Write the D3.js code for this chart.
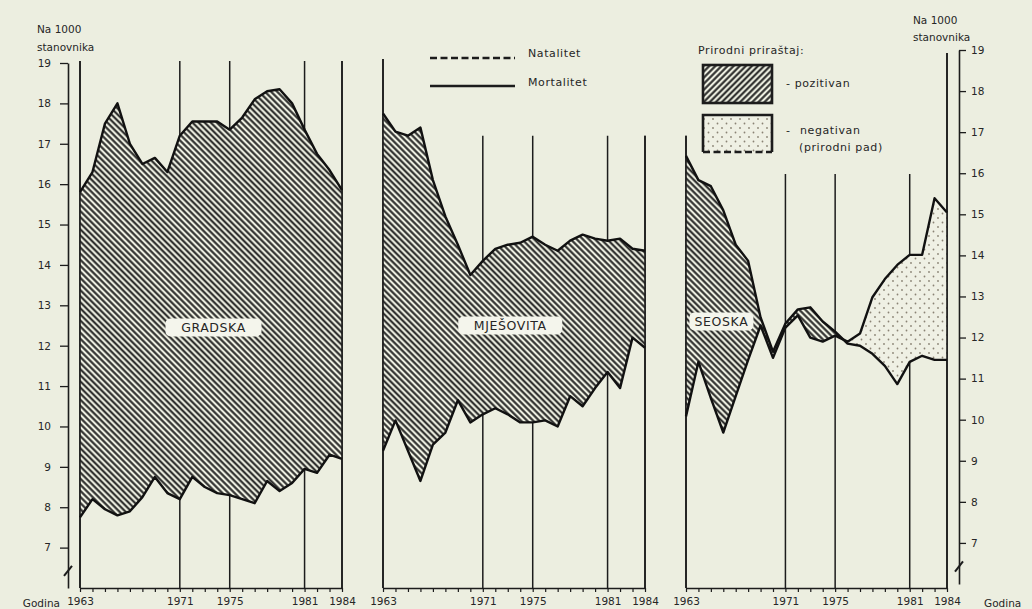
<!DOCTYPE html>
<html>
<head>
<meta charset="utf-8">
<script src="https://cdn.jsdelivr.net/npm/d3@7"></script>
<style>
  body { margin: 0; background: #eceee0; }
  svg { display: block; font-family: "DejaVu Sans", sans-serif; }
  text { fill: #262626; }
</style>
</head>
<body>
<svg width="1032" height="609"></svg>
<script>

// years on the x axis of every panel
const years = [1963, 1964, 1965, 1966, 1967, 1968, 1969, 1970, 1971, 1972, 1973,
               1974, 1975, 1976, 1977, 1978, 1979, 1980, 1981, 1982, 1983, 1984];
const labelYears = [1963, 1971, 1975, 1981, 1984];
const valueTicks = [7, 8, 9, 10, 11, 12, 13, 14, 15, 16, 17, 18, 19];

// natalitet / mortalitet per 1000 stanovnika
const gradskaNat  = [15.8, 16.3, 17.5, 18.0, 17.0, 16.5, 16.65, 16.3, 17.2, 17.55, 17.55,
                     17.55, 17.35, 17.65, 18.1, 18.3, 18.35, 18.0, 17.35, 16.75, 16.35, 15.85];
const gradskaMort = [7.75, 8.2, 7.95, 7.8, 7.9, 8.25, 8.75, 8.35, 8.2, 8.75, 8.5,
                     8.35, 8.3, 8.2, 8.1, 8.65, 8.4, 8.6, 8.95, 8.85, 9.3, 9.2];

const mjesovitaNat  = [17.75, 17.3, 17.2, 17.4, 16.1, 15.2, 14.5, 13.75, 14.1, 14.4, 14.5,
                       14.55, 14.7, 14.5, 14.35, 14.6, 14.75, 14.65, 14.6, 14.65, 14.4, 14.35];
const mjesovitaMort = [9.4, 10.15, 9.4, 8.65, 9.55, 9.85, 10.65, 10.1, 10.3, 10.45, 10.3,
                       10.1, 10.1, 10.15, 10.0, 10.75, 10.5, 10.95, 11.35, 10.95, 12.2, 11.95];

const seoskaNat  = [16.7, 16.1, 15.95, 15.35, 14.5, 14.1, 12.7, 11.85, 12.55, 12.9, 12.95,
                    12.6, 12.35, 12.05, 12.0, 11.8, 11.5, 11.05, 11.6, 11.75, 11.65, 11.65];
const seoskaMort = [10.25, 11.6, 10.7, 9.85, 10.75, 11.65, 12.5, 11.7, 12.45, 12.75, 12.2,
                    12.1, 12.25, 12.1, 12.3, 13.2, 13.65, 14.0, 14.25, 14.25, 15.65, 15.3];

// how high the year lines reach in each panel (same order as labelYears)
const gradskaLineTop   = [19.05, 19.05, 19.05, 19.05, 19.05];
const mjesovitaLineTop = [19.1, 17.2, 17.2, 17.2, 17.2];
const seoskaLineTop    = [17.2, 16.25, 16.25, 16.25, 19.25];


const svg = d3.select('svg');
const defs = svg.append('defs');
const ink = '#1c1c1c';
const paper = '#eceee0';

// shared value scale, the right hand axis sits a little higher in the print
const y = d3.scaleLinear().domain([6, 19]).range([588, 63]);
const yR = d3.scaleLinear().domain([6, 19]).range([584, 50]);

const panels = [
  {id: 'grad', name: 'GRADSKA', nat: gradskaNat, mort: gradskaMort, top: gradskaLineTop,
   left: 80, right: 342, labelAt: [1973.7, 12.45], labelW: 96},
  {id: 'mjes', name: 'MJEŠOVITA', nat: mjesovitaNat, mort: mjesovitaMort, top: mjesovitaLineTop,
   left: 383, right: 645, labelAt: [1973.2, 12.5], labelW: 104},
  {id: 'seos', name: 'SEOSKA', nat: seoskaNat, mort: seoskaMort, top: seoskaLineTop,
   left: 686, right: 947, labelAt: [1965.85, 12.6], labelW: 64}
];


// fill patterns
function hatchPattern(id, angle) {
  const p = defs.append('pattern')
    .attr('id', id)
    .attr('width', 4.3)
    .attr('height', 4.3)
    .attr('patternUnits', 'userSpaceOnUse')
    .attr('patternTransform', `rotate(${angle})`);
  p.append('rect').attr('width', 4.3).attr('height', 4.3).attr('fill', paper);
  p.append('line')
    .attr('x1', 2.15).attr('x2', 2.15)
    .attr('y1', 0).attr('y2', 4.3)
    .attr('stroke', '#222')
    .attr('stroke-width', 2);
}
hatchPattern('hatch', -45);
hatchPattern('hatchKey', 45);

const dots = defs.append('pattern')
  .attr('id', 'dots')
  .attr('width', 9)
  .attr('height', 9)
  .attr('patternUnits', 'userSpaceOnUse');
dots.append('rect').attr('width', 9).attr('height', 9).attr('fill', '#eff0e4');
dots.append('circle').attr('cx', 2).attr('cy', 2).attr('r', 0.9).attr('fill', '#8a8374');
dots.append('circle').attr('cx', 6.5).attr('cy', 6.5).attr('r', 0.9).attr('fill', '#8a8374');


for (let p of panels) {
  drawPanel(p);
}

function drawPanel(p) {
  const x = d3.scaleLinear().domain([1963, 1984]).range([p.left, p.right]);
  const rows = years.map((yr, i) => ({year: yr, nat: p.nat[i], mort: p.mort[i]}));
  const g = svg.append('g').attr('id', p.id);

  // year lines behind the fill
  g.selectAll('line.grid')
    .data(labelYears)
    .enter()
    .append('line')
    .attr('class', 'grid')
    .attr('x1', d => x(d))
    .attr('x2', d => x(d))
    .attr('y1', (d, i) => y(p.top[i]))
    .attr('y2', y(6))
    .attr('stroke', ink)
    .attr('stroke-width', 1.5);

  // clip regions under each curve
  defs.append('clipPath')
    .attr('id', p.id + '-underNat')
    .append('path')
    .attr('d', d3.area().x(d => x(d.year)).y0(y(6)).y1(d => y(d.nat))(rows));
  defs.append('clipPath')
    .attr('id', p.id + '-underMort')
    .append('path')
    .attr('d', d3.area().x(d => x(d.year)).y0(y(6)).y1(d => y(d.mort))(rows));

  // positive growth: between mortality and natality, hatched
  g.append('path')
    .attr('d', d3.area().x(d => x(d.year)).y0(y(20)).y1(d => y(d.mort))(rows))
    .attr('fill', 'url(#hatch)')
    .attr('clip-path', `url(#${p.id}-underNat)`);

  // negative growth, dotted
  g.append('path')
    .attr('d', d3.area().x(d => x(d.year)).y0(y(20)).y1(d => y(d.nat))(rows))
    .attr('fill', 'url(#dots)')
    .attr('clip-path', `url(#${p.id}-underMort)`);

  // panel edges over the fill
  const edges = [0, labelYears.length - 1];
  g.selectAll('line.edge')
    .data(edges)
    .enter()
    .append('line')
    .attr('x1', i => x(labelYears[i]))
    .attr('x2', i => x(labelYears[i]))
    .attr('y1', i => y(p.top[i]))
    .attr('y2', y(6))
    .attr('stroke', ink)
    .attr('stroke-width', 1.6);

  // the two curves
  for (let key of ['nat', 'mort']) {
    g.append('path')
      .attr('d', d3.line().x(d => x(d.year)).y(d => y(d[key]))(rows))
      .attr('fill', 'none')
      .attr('stroke', '#111')
      .attr('stroke-width', 2.4)
      .attr('stroke-linejoin', 'round');
  }

  // name of the settlement type
  const cx = x(p.labelAt[0]);
  const cy = y(p.labelAt[1]);
  g.append('rect')
    .attr('x', cx - p.labelW / 2)
    .attr('y', cy - 9)
    .attr('width', p.labelW)
    .attr('height', 18)
    .attr('rx', 5)
    .attr('fill', '#f4f5ec');
  g.append('text')
    .text(p.name)
    .attr('x', cx)
    .attr('y', cy + 4.5)
    .attr('text-anchor', 'middle')
    .attr('font-size', 12.5)
    .attr('letter-spacing', 0.6);

  // baseline with a tick for every year
  const xAxis = d3.axisBottom(x)
    .tickValues(years)
    .tickSize(4)
    .tickSizeOuter(0)
    .tickPadding(6)
    .tickFormat(d => labelYears.includes(d) ? d : '');
  const ax = g.append('g')
    .attr('transform', `translate(0, ${y(6)})`)
    .call(xAxis)
    .attr('font-family', null)
    .attr('font-size', 10.5);
  ax.select('.domain').attr('stroke', ink).attr('stroke-width', 1.6);
  ax.selectAll('.tick line').attr('stroke', ink).attr('stroke-width', 1.2);
  ax.selectAll('.tick text').attr('fill', '#262626');
}


// left value axis
const leftAxis = svg.append('g')
  .attr('transform', 'translate(68, 0)')
  .call(d3.axisLeft(y).tickValues(valueTicks).tickSize(8).tickPadding(9).tickSizeOuter(0))
  .attr('font-family', null)
  .attr('font-size', 10.5);

// right value axis
const rightAxis = svg.append('g')
  .attr('transform', 'translate(959, 0)')
  .call(d3.axisRight(yR).tickValues(valueTicks).tickSize(7).tickPadding(5).tickSizeOuter(0))
  .attr('font-family', null)
  .attr('font-size', 10.5);

for (let a of [leftAxis, rightAxis]) {
  a.select('.domain').attr('stroke', ink).attr('stroke-width', 1.6);
  a.selectAll('.tick line').attr('stroke', ink).attr('stroke-width', 1.3);
  a.selectAll('.tick text').attr('fill', '#262626');
}

// axis break marks
svg.append('line')
  .attr('x1', 64).attr('y1', y(6.3))
  .attr('x2', 72).attr('y2', y(6.55))
  .attr('stroke', ink).attr('stroke-width', 2);
svg.append('line')
  .attr('x1', 955).attr('y1', yR(6.3))
  .attr('x2', 963).attr('y2', yR(6.55))
  .attr('stroke', ink).attr('stroke-width', 2);


// unit and year captions
const captions = [
  ['Na  1000', 37, 33, 'start'], ['stanovnika', 37, 51, 'start'],
  ['Na  1000', 913, 24, 'start'], ['stanovnika', 913, 41, 'start'],
  ['Godina', 60, 607, 'end'], ['Godina', 984, 607, 'start']
];
svg.selectAll('text.caption')
  .data(captions)
  .enter()
  .append('text')
  .attr('class', 'caption')
  .text(d => d[0])
  .attr('x', d => d[1])
  .attr('y', d => d[2])
  .attr('text-anchor', d => d[3])
  .attr('font-size', 10.5);


// legend: line styles
const key = svg.append('g').attr('font-size', 11).attr('letter-spacing', 0.6);
key.append('line')
  .attr('x1', 430).attr('x2', 515).attr('y1', 58).attr('y2', 58)
  .attr('stroke', ink).attr('stroke-width', 2.3)
  .attr('stroke-dasharray', '7,3.5');
key.append('text').text('Natalitet').attr('x', 528).attr('y', 57);
key.append('line')
  .attr('x1', 430).attr('x2', 515).attr('y1', 86).attr('y2', 86)
  .attr('stroke', ink).attr('stroke-width', 2.5);
key.append('text').text('Mortalitet').attr('x', 528).attr('y', 86);

// legend: fills
key.append('text').text('Prirodni priraštaj:').attr('x', 698).attr('y', 54);
key.append('rect')
  .attr('x', 703).attr('y', 65).attr('width', 69).attr('height', 38)
  .attr('fill', 'url(#hatchKey)')
  .attr('stroke', ink).attr('stroke-width', 2.6);
key.append('text').text('- pozitivan').attr('x', 786).attr('y', 87);

key.append('rect')
  .attr('x', 703).attr('y', 115).attr('width', 69).attr('height', 37)
  .attr('fill', 'url(#dots)');
key.append('path')
  .attr('d', 'M703,152 V115 H772 V152')
  .attr('fill', 'none')
  .attr('stroke', ink).attr('stroke-width', 2.6);
key.append('line')
  .attr('x1', 703).attr('x2', 772).attr('y1', 152).attr('y2', 152)
  .attr('stroke', ink).attr('stroke-width', 2.6)
  .attr('stroke-dasharray', '7,3.5');
key.append('text').text('-').attr('x', 786).attr('y', 134);
key.append('text').text('negativan').attr('x', 800).attr('y', 134);
key.append('text').text('(prirodni pad)').attr('x', 799).attr('y', 151);

</script>
</body>
</html>
